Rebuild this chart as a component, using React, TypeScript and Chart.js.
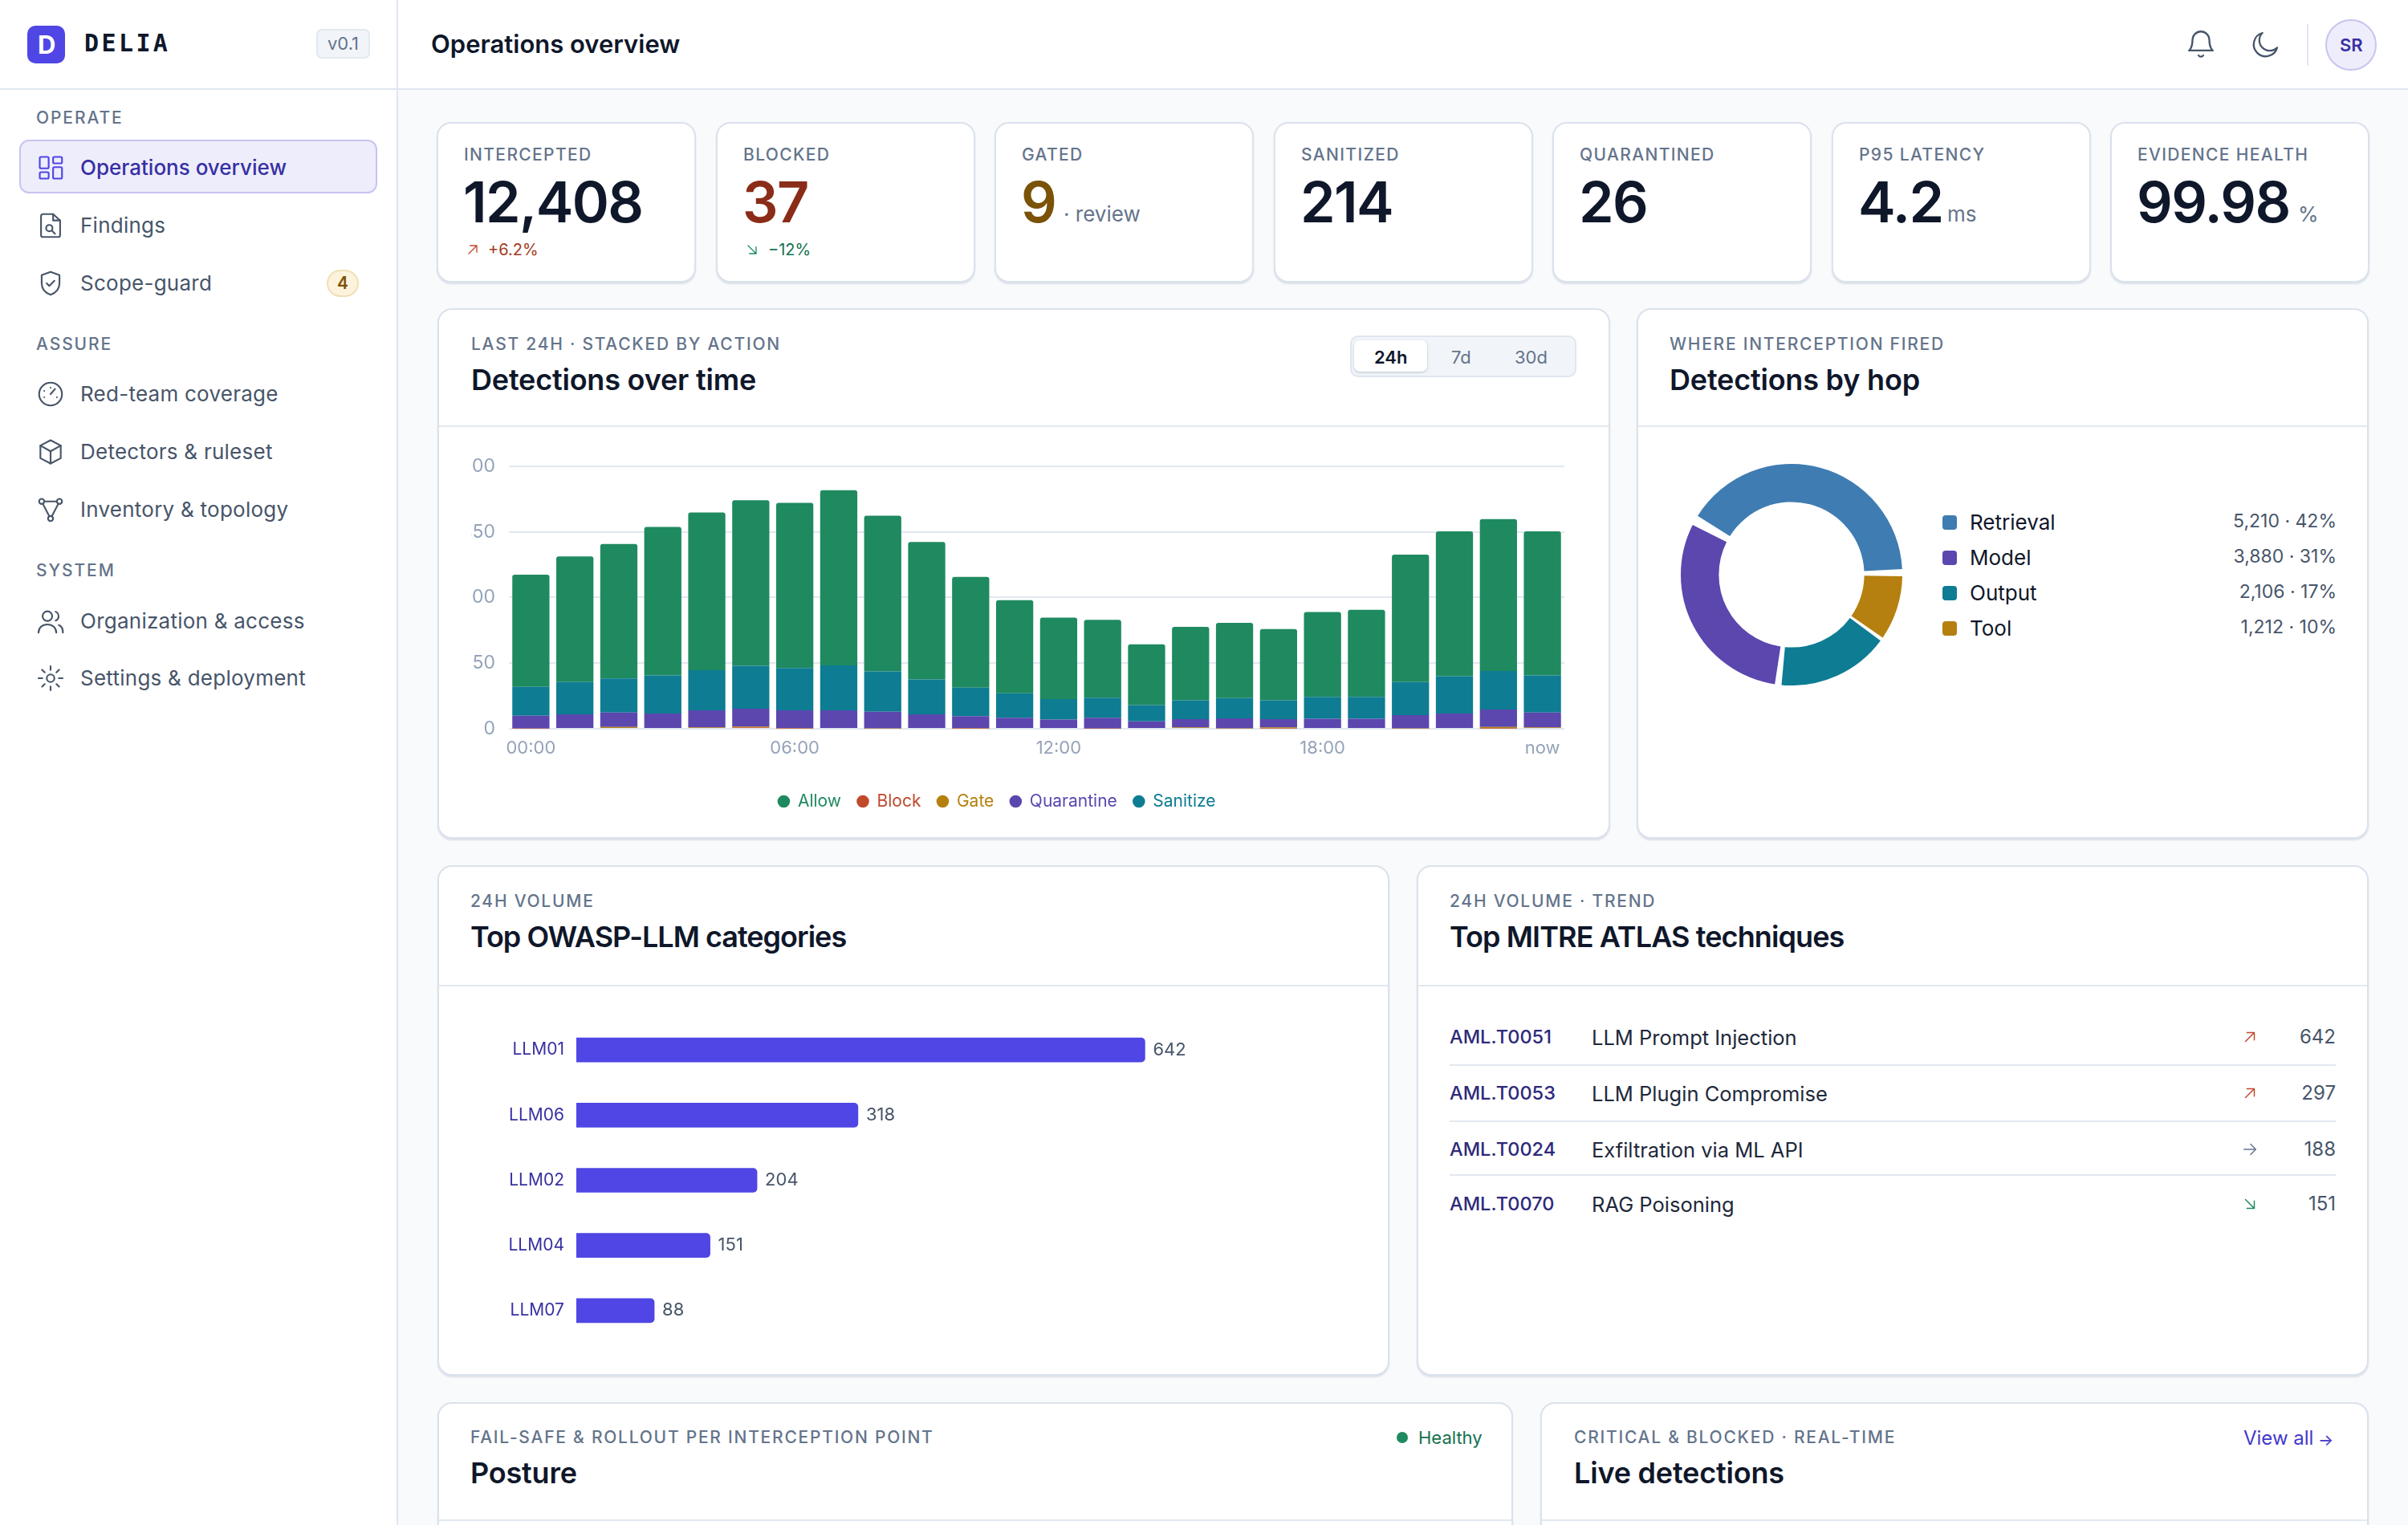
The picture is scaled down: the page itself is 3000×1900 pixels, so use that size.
import React, { useEffect, useRef } from "react";
import { Chart, registerables } from "chart.js";

Chart.register(...registerables);
Chart.defaults.font.family = "Inter";

const hours = [
  "00:00", "01:00", "02:00", "03:00", "04:00", "05:00", "06:00", "07:00", "08:00", "09:00", "10:00", "11:00",
  "12:00", "13:00", "14:00", "15:00", "16:00", "17:00", "18:00", "19:00", "20:00", "21:00", "22:00", "now",
];
const shownHours = ["00:00", "06:00", "12:00", "18:00", "now"];
const allow = [256, 287, 307, 339, 360, 378, 377, 400, 356, 314, 253, 213, 186, 178, 139, 168, 172, 163, 194, 199, 291, 331, 347, 329];
const block = [1, 0, 2, 0, 0, 3, 1, 0, 0, 0, 1, 0, 0, 1, 0, 2, 0, 1, 0, 0, 0, 2, 1, 0];
const gate = [0, 0, 2, 0, 3, 2, 1, 2, 1, 0, 1, 2, 0, 0, 0, 1, 1, 2, 0, 2, 1, 0, 3, 3];
const quarantine = [29, 33, 33, 35, 39, 41, 40, 40, 38, 33, 27, 23, 21, 24, 17, 19, 23, 19, 23, 21, 30, 33, 40, 34];
const sanitize = [66, 74, 78, 87, 92, 98, 97, 103, 92, 80, 65, 56, 47, 46, 37, 43, 46, 43, 50, 50, 76, 85, 88, 85];
const yTicks = [0, 150, 300, 450, 600];

const hopNames = ["Retrieval", "Model", "Output", "Tool"];
const hopValues = [5210, 3880, 2106, 1212];
const hopShares = ["42%", "31%", "17%", "10%"];
const hopColors = ["#3f7cb2", "#5b47ae", "#0e7c93", "#b5800f"];

const owaspCodes = ["LLM01", "LLM06", "LLM02", "LLM04", "LLM07"];
const owaspValues = [642, 318, 204, 151, 88];

const atlasCodes = ["AML.T0051", "AML.T0053", "AML.T0024", "AML.T0070"];
const atlasNames = ["LLM Prompt Injection", "LLM Plugin Compromise", "Exfiltration via ML API", "RAG Poisoning"];
const atlasTrends = ["up", "up", "flat", "down"];
const atlasCounts = [642, 297, 188, 151];

const INK = "#0f172a";
const SLATE = "#64748b";
const BODY = "#475569";
const LINE = "#e2e8f0";
const INDIGO = "#3730a3";

function T({ x, y, size, color = INK, weight = 400, ls = 0, right = false, font = "Inter", children }: any) {
  return (
    <div
      style={{
        position: "absolute",
        left: right ? undefined : x,
        right: right ? 3000 - x : undefined,
        top: y,
        transform: "translateY(-50%)",
        fontFamily: font,
        fontSize: size,
        fontWeight: weight,
        letterSpacing: ls,
        color,
        whiteSpace: "nowrap",
        lineHeight: 1.2,
      }}
    >
      {children}
    </div>
  );
}

function Box({ x, y, w, h, style }: any) {
  return <div style={{ position: "absolute", left: x, top: y, width: w, height: h, boxSizing: "border-box", ...style }} />;
}

function Icon({ x, y, size = 38, color = BODY, sw = 1.35, children }: any) {
  return (
    <svg
      viewBox="0 0 24 24"
      width={size}
      height={size}
      fill="none"
      stroke={color}
      strokeWidth={sw}
      strokeLinecap="round"
      strokeLinejoin="round"
      style={{ position: "absolute", left: x - size / 2, top: y - size / 2 }}
    >
      {children}
    </svg>
  );
}

function ChartCanvas({ x, y, w, h, config }: any) {
  const ref = useRef<HTMLCanvasElement>(null);
  useEffect(() => {
    if (!ref.current) return;
    const chart = new Chart(ref.current, config);
    return () => chart.destroy();
  }, []);
  return <canvas ref={ref} width={w} height={h} style={{ position: "absolute", left: x, top: y, width: w, height: h }} />;
}

const barRadius = { topLeft: 3, topRight: 3, bottomLeft: 0, bottomRight: 0 };

// the legend in the reference sits left of the canvas centre
const legendNudge = {
  id: "legendNudge",
  afterLayout(chart: any) {
    chart.legend.right -= 52;
  },
};

const detectionsConfig: any = {
  type: "bar",
  data: {
    labels: hours,
    datasets: [
      { label: "Allow", data: allow, backgroundColor: "#1f8a5f", order: 5, borderRadius: barRadius },
      { label: "Block", data: block, backgroundColor: "#c0492c", order: 1 },
      { label: "Gate", data: gate, backgroundColor: "#b5800f", order: 2 },
      { label: "Quarantine", data: quarantine, backgroundColor: "#5b47ae", order: 3 },
      { label: "Sanitize", data: sanitize, backgroundColor: "#0e7c93", order: 4 },
    ],
  },
  options: {
    responsive: false,
    animation: false,
    devicePixelRatio: 1,
    layout: { padding: { right: 15 } },
    datasets: { bar: { categoryPercentage: 1, barPercentage: 0.845 } },
    scales: {
      x: {
        stacked: true,
        grid: { display: false, drawTicks: false },
        border: { display: false },
        afterFit: (a: any) => { a.height = 60; },
        ticks: {
          autoSkip: false,
          maxRotation: 0,
          padding: 11,
          color: "#94a3b8",
          font: { size: 22 },
          callback(this: any, v: any) {
            const l = this.getLabelForValue(v);
            return shownHours.includes(l) ? l : "";
          },
        },
      },
      y: {
        stacked: true,
        min: 0,
        max: 600,
        afterFit: (a: any) => { a.width = 47; },
        afterBuildTicks: (a: any) => { a.ticks = yTicks.map((value) => ({ value })); },
        grid: { color: LINE, lineWidth: 2, drawTicks: false },
        border: { display: false },
        ticks: { padding: 17, color: "#94a3b8", font: { size: 23 } },
      },
    },
    plugins: {
      tooltip: { enabled: false },
      legend: {
        position: "bottom",
        labels: {
          usePointStyle: true,
          pointStyle: "circle",
          boxWidth: 14,
          boxHeight: 11,
          padding: 20,
          font: { size: 21 },
          generateLabels: (c: any) =>
            Chart.defaults.plugins.legend.labels
              .generateLabels(c)
              .sort((a: any, b: any) => a.datasetIndex - b.datasetIndex)
              .map((i: any) => ({ ...i, fontColor: i.fillStyle, lineWidth: 0 })),
        },
      },
    },
  },
  plugins: [legendNudge],
};

// ring runs clockwise from the upper left as retrieval, tool, output, model
const ringOrder = [0, 3, 2, 1];
const hopConfig: any = {
  type: "doughnut",
  data: {
    labels: ringOrder.map((i) => hopNames[i]),
    datasets: [
      {
        data: ringOrder.map((i) => hopValues[i]),
        backgroundColor: ringOrder.map((i) => hopColors[i]),
        borderWidth: 0,
        spacing: 9,
      },
    ],
  },
  options: {
    responsive: false,
    animation: false,
    devicePixelRatio: 1,
    rotation: -61,
    cutout: "64.5%",
    plugins: { legend: { display: false }, tooltip: { enabled: false } },
  },
};

const barValueLabels = {
  id: "barValueLabels",
  afterDatasetsDraw(chart: any) {
    const { ctx } = chart;
    ctx.save();
    ctx.font = "22px Inter";
    ctx.fillStyle = BODY;
    ctx.textBaseline = "middle";
    chart.getDatasetMeta(0).data.forEach((bar: any, i: number) => {
      ctx.fillText(String(owaspValues[i]), bar.x + 10, bar.y);
    });
    ctx.restore();
  },
};

const owaspConfig: any = {
  type: "bar",
  data: {
    labels: owaspCodes,
    datasets: [
      {
        data: owaspValues,
        backgroundColor: "#4f46e5",
        borderRadius: { topLeft: 0, bottomLeft: 0, topRight: 5, bottomRight: 5 },
        barThickness: 30,
      },
    ],
  },
  options: {
    indexAxis: "y",
    responsive: false,
    animation: false,
    devicePixelRatio: 1,
    scales: {
      x: { display: false, min: 0, max: 880 },
      y: {
        afterFit: (a: any) => { a.width = 132; },
        grid: { display: false, drawTicks: false },
        border: { display: false },
        ticks: { padding: 15, color: INDIGO, font: { size: 21 } },
      },
    },
    plugins: { legend: { display: false }, tooltip: { enabled: false } },
  },
  plugins: [barValueLabels],
};

const kpis = [
  { label: "INTERCEPTED", value: "12,408", color: INK },
  { label: "BLOCKED", value: "37", color: "#8a2c17" },
  { label: "GATED", value: "9", color: "#7a5208", suffix: "· review", suffixX: 1325 },
  { label: "SANITIZED", value: "214", color: INK },
  { label: "QUARANTINED", value: "26", color: INK },
  { label: "P95 LATENCY", value: "4.2", color: INK, suffix: "ms", suffixX: 2426 },
  { label: "EVIDENCE HEALTH", value: "99.98", color: INK, suffix: "%", suffixX: 2863 },
];

const navTop = [
  { label: "Findings", y: 281, icon: "file" },
  { label: "Scope-guard", y: 353, icon: "shield" },
  { label: "Red-team coverage", y: 491, icon: "gauge" },
  { label: "Detectors & ruleset", y: 563, icon: "box" },
  { label: "Inventory & topology", y: 635, icon: "topo" },
  { label: "Organization & access", y: 774, icon: "users" },
  { label: "Settings & deployment", y: 845, icon: "gear" },
];

function NavGlyph({ name }: { name: string }) {
  if (name === "file") return (<><path d="M14 3H6a1.5 1.5 0 0 0-1.5 1.500v15A1.500 1.500 0 0 0 6 21h12a1.500 1.500 0 0 0 1.500-1.500V8z" /><path d="M14 3v5h5.500" /><circle cx="11" cy="14" r="2.500" /><path d="m13 16 2.500 2.500" /></>);
  if (name === "shield") return (<><path d="M12 3 5 5.500V12c0 4.500 3 7.500 7 9 4-1.500 7-4.500 7-9V5.500z" /><path d="m9 12 2 2 4-4" /></>);
  if (name === "gauge") return (<><circle cx="12" cy="12" r="9" /><path d="m12 12 3.500-4" /><path d="M7 9.500h.01M12 7h.01M7 14.500h.01M17 14.500h.01" /></>);
  if (name === "box") return (<><path d="M12 2.800 4 7v10l8 4.200L20 17V7z" /><path d="m4 7 8 4.500L20 7M12 11.500v9.700" /></>);
  if (name === "topo") return (<><circle cx="5" cy="5.500" r="2" /><circle cx="19" cy="5.500" r="2" /><circle cx="12" cy="19" r="2" /><path d="M7 5.500h10M6 7.500l5 9.700M18 7.500l-5 9.700" /></>);
  if (name === "users") return (<><circle cx="9.500" cy="8" r="3.800" /><path d="M2.500 21c0-4 3-6.500 7-6.500s7 2.500 7 6.500" /><path d="M16 4.500a3.800 3.800 0 0 1 0 7M18.500 15c2 .8 3.200 3 3.200 6" /></>);
  return (<><circle cx="12" cy="12" r="3" /><path d="M12 2.500v3M12 18.500v3M2.500 12h3M18.500 12h3M5.300 5.300l2.100 2.100M16.600 16.600l2.100 2.100M5.300 18.700l2.100-2.100M16.600 7.400l2.100-2.100" /></>);
}

function TrendArrow({ x, y, kind, size = 22 }: any) {
  const color = kind === "up" ? "#c0492c" : kind === "down" ? "#1f8a5f" : "#64748b";
  return (
    <Icon x={x} y={y} size={size} color={color} sw={1.6}>
      {kind === "up" && <path d="M6 18 18 6M8 6h10v10" />}
      {kind === "down" && <path d="M6 6l12 12M18 8v10H8" />}
      {kind === "flat" && <path d="M4 12h16M13 5l7 7-7 7" />}
    </Icon>
  );
}

function Card({ x, y, w, h, dividerY }: any) {
  return (
    <>
      <Box x={x} y={y} w={w} h={h} style={{ background: "#fff", border: "2px solid #dbe2ec", borderRadius: 18, boxShadow: "0 2px 2px rgba(148,163,184,.28)" }} />
      {dividerY && <Box x={x + 2} y={dividerY} w={w - 4} h={2} style={{ background: LINE }} />}
    </>
  );
}

function CardHead({ x, eyebrowY, titleY, eyebrow, title, titleLs = -0.2 }: any) {
  return (
    <>
      <T x={x} y={eyebrowY + 1} size={21} color={SLATE} weight={500} ls={1.75}>{eyebrow}</T>
      <T x={x} y={titleY} size={36} weight={600} ls={titleLs}>{title}</T>
    </>
  );
}

export default function App() {
  return (
    <div style={{ position: "relative", width: 3000, height: 1900, overflow: "hidden", background: "#f8fafc", fontFamily: "Inter" }}>
      <style>{"body{margin:0;overflow:hidden}"}</style>

      {/* sidebar */}
      <Box x={0} y={0} w={496} h={1900} style={{ background: "#fff", borderRight: "2px solid #dfe6ef" }} />
      <Box x={0} y={0} w={3000} h={112} style={{ background: "#fff", borderBottom: "2px solid #dfe6ef" }} />
      <Box x={494} y={0} w={2} h={112} style={{ background: "#dfe6ef" }} />
      <Box x={34} y={32} w={47} h={47} style={{ background: "#4f46e5", borderRadius: 10 }} />
      <T x={47} y={56} size={31} color="#fff" weight={700}>D</T>
      <T x={105} y={54} size={30} weight={700} ls={3.4} font="DejaVu Sans Mono">DELIA</T>
      <Box x={394} y={36} w={67} h={37} style={{ background: "#f1f5f9", border: "2px solid #e2e8f0", borderRadius: 7 }} />
      <T x={408} y={54} size={22} color={SLATE}>v0.1</T>
      <T x={537} y={55} size={31} weight={600}>Operations overview</T>

      <T x={45} y={147} size={21} color={SLATE} weight={500} ls={1.9}>OPERATE</T>
      <T x={45} y={429} size={21} color={SLATE} weight={500} ls={1.9}>ASSURE</T>
      <T x={45} y={711} size={21} color={SLATE} weight={500} ls={1.9}>SYSTEM</T>

      <Box x={24} y={174} w={446} h={67} style={{ background: "#eeedfb", border: "2px solid #c7c4f0", borderRadius: 12 }} />
      <Icon x={63} y={209} color="#4f46e5">
        <rect x="3.500" y="3.500" width="7" height="9" rx="1" />
        <rect x="14" y="3.500" width="7" height="5" rx="1" />
        <rect x="14" y="11.500" width="7" height="9" rx="1" />
        <rect x="3.500" y="15.500" width="7" height="5" rx="1" />
      </Icon>
      <T x={100} y={209} size={26} color={INDIGO} weight={500}>Operations overview</T>
      {navTop.map((n) => (
        <React.Fragment key={n.label}>
          <Icon x={63} y={n.y}><NavGlyph name={n.icon} /></Icon>
          <T x={100} y={n.y} size={26} color={BODY} ls={0.25}>{n.label}</T>
        </React.Fragment>
      ))}
      <Box x={407} y={336} w={40} h={34} style={{ background: "#fdf3dc", border: "2px solid #f0dfb8", borderRadius: 17 }} />
      <T x={420} y={353} size={21} color="#7a5208" weight={600}>4</T>

      {/* top bar */}
      <Icon x={2742} y={55} size={42} color={BODY} sw={1.3}>
        <path d="M6 9a6 6 0 0 1 12 0c0 6 2.500 7.500 2.500 7.500h-17S6 15 6 9" />
        <path d="M10.300 20a2 2 0 0 0 3.400 0" />
      </Icon>
      <Icon x={2823} y={55} size={42} color={BODY} sw={1.3}>
        <path d="M20 14.500A8.500 8.500 0 1 1 9.500 4a6.800 6.800 0 0 0 10.500 10.500" />
      </Icon>
      <Box x={2874} y={30} w={2} h={52} style={{ background: LINE }} />
      <Box x={2897} y={24} w={64} h={64} style={{ background: "#eeedfb", border: "2px solid #c7c4f0", borderRadius: 32 }} />
      <T x={2915} y={56} size={22} color={INDIGO} weight={600}>SR</T>

      {/* kpi row */}
      {kpis.map((k, i) => {
        const x = 544 + Math.round(i * 347.5);
        return (
          <React.Fragment key={k.label}>
            <Card x={x} y={152} w={323} h={200} />
            <T x={x + 34} y={193} size={21} color={SLATE} weight={500} ls={1.35}>{k.label}</T>
            <T x={x + 33} y={252} size={70} color={k.color} weight={600} ls={-1.6}>{k.value}</T>
            {k.suffix && <T x={k.suffixX} y={267} size={26} color={SLATE}>{k.suffix}</T>}
          </React.Fragment>
        );
      })}
      <TrendArrow x={589} y={311} kind="up" size={20} />
      <T x={608} y={311} size={20} color="#a33a20">+6.2%</T>
      <TrendArrow x={937} y={311} kind="down" size={20} />
      <T x={957} y={311} size={20} color="#15714f">−12%</T>

      {/* detections over time */}
      <Card x={545} y={384} w={1461} h={661} dividerY={530} />
      <CardHead x={587} eyebrowY={428} titleY={474} eyebrow="LAST 24H · STACKED BY ACTION" title="Detections over time" />
      <Box x={1682} y={418} w={282} h={52} style={{ background: "#f1f5f9", border: "2px solid #dfe6ef", borderRadius: 10 }} />
      <Box x={1687} y={424} w={91} h={39} style={{ background: "#fff", borderRadius: 7, boxShadow: "0 1px 3px rgba(100,116,139,.4)" }} />
      <T x={1712} y={445} size={22} weight={600}>24h</T>
      <T x={1808} y={445} size={22} color={SLATE}>7d</T>
      <T x={1887} y={445} size={22} color={SLATE}>30d</T>
      <ChartCanvas x={587} y={550} w={1377} h={469} config={detectionsConfig} />

      {/* detections by hop */}
      <Card x={2039} y={384} w={912} h={661} dividerY={530} />
      <CardHead x={2080} eyebrowY={428} titleY={474} eyebrow="WHERE INTERCEPTION FIRED" title="Detections by hop" />
      <ChartCanvas x={2094} y={578} w={276} h={276} config={hopConfig} />
      {hopNames.map((name, i) => (
        <React.Fragment key={name}>
          <Box x={2420} y={642 + i * 44} w={18} h={18} style={{ background: hopColors[i], borderRadius: 4 }} />
          <T x={2454} y={651 + i * 44} size={26}>{name}</T>
          <T x={2911} y={650 + i * 44} size={23} color={BODY} right>
            {hopValues[i].toLocaleString("en-US")} · {hopShares[i]}
          </T>
        </React.Fragment>
      ))}

      {/* owasp */}
      <Card x={545} y={1078} w={1186} h={636} dividerY={1227} />
      <CardHead x={586} eyebrowY={1122} titleY={1168} eyebrow="24H VOLUME" title="Top OWASP-LLM categories" titleLs={-1} />
      <ChartCanvas x={586} y={1240} w={1103} h={461} config={owaspConfig} />

      {/* atlas */}
      <Card x={1765} y={1078} w={1186} h={636} dividerY={1227} />
      <CardHead x={1806} eyebrowY={1122} titleY={1168} eyebrow="24H VOLUME · TREND" title="Top MITRE ATLAS techniques" titleLs={-0.9} />
      {atlasCodes.map((code, i) => {
        const y = [1292, 1362, 1432, 1500][i];
        return (
          <React.Fragment key={code}>
            <T x={1806} y={y} size={23.5} color="#2e2a7a" weight={500}>{code}</T>
            <T x={1983} y={y + 1} size={25.5} color="#1e293b">{atlasNames[i]}</T>
            <TrendArrow x={2803} y={y} kind={atlasTrends[i]} />
            <T x={2910} y={y} size={24} color={BODY} right>{atlasCounts[i]}</T>
            {i < 3 && <Box x={1806} y={[1326, 1396, 1463][i]} w={1104} h={2} style={{ background: LINE }} />}
          </React.Fragment>
        );
      })}

      {/* bottom row, cut by the page edge */}
      <Card x={545} y={1747} w={1340} h={300} dividerY={1893} />
      <CardHead x={586} eyebrowY={1790} titleY={1836} eyebrow="FAIL-SAFE & ROLLOUT PER INTERCEPTION POINT" title="Posture" />
      <Box x={1740} y={1784} w={14} h={14} style={{ background: "#1f8a5f", borderRadius: 7 }} />
      <T x={1767} y={1791} size={22} color="#15714f">Healthy</T>
      <Card x={1919} y={1747} w={1032} h={300} dividerY={1893} />
      <CardHead x={1961} eyebrowY={1790} titleY={1836} eyebrow="CRITICAL & BLOCKED · REAL-TIME" title="Live detections" />
      <T x={2795} y={1792} size={24} color="#4338ca" weight={400}>View all</T>
      <T x={2888} y={1794} size={20} color="#4338ca">→</T>
    </div>
  );
}
